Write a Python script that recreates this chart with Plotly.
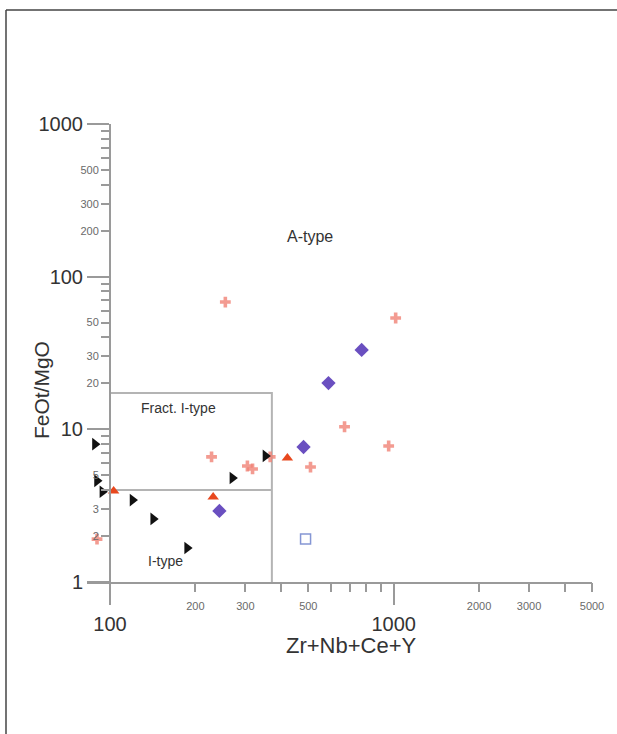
import math
import plotly.graph_objects as go

# Sample groups: Zr+Nb+Ce+Y (ppm) vs FeOt/MgO
black_x = [88.5, 90, 94, 120, 142, 187, 270, 353]
black_y = [8.0, 4.6, 3.9, 3.44, 2.59, 1.67, 4.8, 6.7]

red_x = [103, 231, 422]
red_y = [3.94, 3.6, 6.5]

purple_x = [243, 481, 589, 771]
purple_y = [2.92, 7.66, 20.1, 33.1]

pink_x = [90, 228, 305, 318, 367, 509, 671, 960, 1016, 255]
pink_y = [1.91, 6.6, 5.75, 5.5, 6.6, 5.66, 10.4, 7.78, 53.6, 68.2]

square_x = [489]
square_y = [1.91]

# Field boundaries
box_x = 372
box_top = 17.3
itype_top = 4.0

# Tick values
x_major = [100, 1000]
x_labeled_minor = [200, 300, 500, 2000, 3000, 5000]
x_minor = [200, 300, 400, 500, 600, 700, 800, 900, 2000, 3000, 4000, 5000]
y_major = [1, 10, 100, 1000]
y_labeled_minor = [2, 3, 5, 20, 30, 50, 200, 300, 500]
y_minor = [m * d for d in (1, 10, 100) for m in range(2, 10)]

X_RANGE = [1.91892, math.log10(5000)]
Y_RANGE = [0, 3]
# y axis crosses the x axis at Zr+Nb+Ce+Y = 100
Y_AXIS_POS = (2 - X_RANGE[0]) / (X_RANGE[1] - X_RANGE[0])

FONT = "Liberation Sans, Arial, sans-serif"
AXIS_COL = "#9a9a9a"
TEXT_COL = "#333333"
SMALL_COL = "#6a6a6a"
LINE_COL = "#b4b4b4"

fig = go.Figure()

# Field boundary lines
fig.add_trace(go.Scatter(x=[100, box_x, box_x], y=[box_top, box_top, 1], mode="lines",
                         line=dict(color=LINE_COL, width=2), showlegend=False, hoverinfo="skip"))
fig.add_trace(go.Scatter(x=[100, box_x], y=[itype_top, itype_top], mode="lines",
                         line=dict(color=LINE_COL, width=2), showlegend=False, hoverinfo="skip"))

fig.add_trace(go.Scatter(x=pink_x, y=pink_y, mode="markers", cliponaxis=False,
                         marker=dict(symbol="cross", size=9, color="#f08276", opacity=0.8,
                                     line=dict(width=0)), showlegend=False))
fig.add_trace(go.Scatter(x=black_x, y=black_y, mode="markers", cliponaxis=False,
                         marker=dict(symbol="triangle-right", size=11, color="#111111",
                                     line=dict(width=0)), showlegend=False))
fig.add_trace(go.Scatter(x=red_x, y=red_y, mode="markers", cliponaxis=False,
                         marker=dict(symbol="triangle-up", size=10, color="#e8481e",
                                     line=dict(width=0)), showlegend=False))
fig.add_trace(go.Scatter(x=purple_x, y=purple_y, mode="markers", cliponaxis=False,
                         marker=dict(symbol="diamond", size=11, color="#6a4fc0",
                                     line=dict(width=0)), showlegend=False))
fig.add_trace(go.Scatter(x=square_x, y=square_y, mode="markers", cliponaxis=False,
                         marker=dict(symbol="square-open", size=10, color="#8596d4",
                                     line=dict(width=1.5)), showlegend=False))

# Overlay axes carrying the small tick labels
fig.add_trace(go.Scatter(x=[100], y=[1], xaxis="x2", yaxis="y2", mode="markers",
                         marker=dict(opacity=0), showlegend=False, hoverinfo="skip"))

fig.update_layout(
    width=617, height=734,
    margin=dict(l=87, r=25, t=124, b=152),
    paper_bgcolor="white", plot_bgcolor="white",
    font=dict(family=FONT, color=TEXT_COL),
    xaxis=dict(type="log", range=X_RANGE, showgrid=False, zeroline=False,
               showline=True, linecolor=AXIS_COL, linewidth=2,
               tickmode="array", tickvals=x_major, ticktext=[str(v) for v in x_major],
               ticks="outside", ticklen=21, tickwidth=2, tickcolor=AXIS_COL,
               tickfont=dict(size=20, color=TEXT_COL), ticklabelstandoff=2,
               minor=dict(tickmode="array", tickvals=x_minor, ticks="outside",
                          ticklen=8, tickwidth=1.5, tickcolor=AXIS_COL, showgrid=False)),
    xaxis2=dict(type="log", range=X_RANGE, overlaying="x", anchor="y", side="bottom",
                showgrid=False, zeroline=False, showline=False,
                tickmode="array", tickvals=x_labeled_minor,
                ticktext=[str(v) for v in x_labeled_minor],
                ticks="outside", ticklen=8, tickwidth=1.5, tickcolor=AXIS_COL,
                tickfont=dict(size=11, color=SMALL_COL), ticklabelstandoff=6),
    yaxis=dict(type="log", range=Y_RANGE, showgrid=False, zeroline=False,
               anchor="free", position=Y_AXIS_POS,
               showline=True, linecolor=AXIS_COL, linewidth=2,
               tickmode="array", tickvals=y_major, ticktext=[str(v) for v in y_major],
               ticks="outside", ticklen=22, tickwidth=2, tickcolor=AXIS_COL,
               tickfont=dict(size=20, color=TEXT_COL), ticklabelstandoff=0,
               minor=dict(tickmode="array", tickvals=y_minor, ticks="outside",
                          ticklen=8, tickwidth=1.5, tickcolor=AXIS_COL, showgrid=False)),
    yaxis2=dict(type="log", range=Y_RANGE, overlaying="y", anchor="free",
                position=Y_AXIS_POS, side="left",
                showgrid=False, zeroline=False, showline=False,
                tickmode="array", tickvals=y_labeled_minor,
                ticktext=[str(v) for v in y_labeled_minor],
                ticks="outside", ticklen=8, tickwidth=1.5, tickcolor=AXIS_COL,
                tickfont=dict(size=11, color=SMALL_COL), ticklabelstandoff=1),
    showlegend=False,
)

# Field names
fig.add_annotation(x=2.705, y=2.266, xref="x", yref="y", text="A-type", showarrow=False,
                   font=dict(size=16, color=TEXT_COL))
fig.add_annotation(x=2.2397, y=1.1395, xref="x", yref="y", text="Fract. I-type", showarrow=False,
                   font=dict(size=14, color=TEXT_COL))
fig.add_annotation(x=2.194, y=0.1375, xref="x", yref="y", text="I-type", showarrow=False,
                   font=dict(size=14, color=TEXT_COL))

# Axis titles
fig.add_annotation(x=0.5228, y=-0.1397, xref="paper", yref="paper", text="Zr+Nb+Ce+Y",
                   xanchor="center", yanchor="middle",
                   showarrow=False, font=dict(size=22, color=TEXT_COL))
fig.add_annotation(x=-0.0911, y=0.419, xref="paper", yref="paper", text="FeOt/MgO",
                   xanchor="center", yanchor="middle",
                   textangle=-90, showarrow=False, font=dict(size=21, color=TEXT_COL))

# Frame around the figure
fig.add_shape(type="line", xref="paper", yref="paper", x0=-0.1604, x1=1.06, y0=1.2489, y1=1.2489,
              line=dict(color="#444444", width=1.5))
fig.add_shape(type="line", xref="paper", yref="paper", x0=-0.1604, x1=-0.1604, y0=1.2489, y1=-0.34,
              line=dict(color="#444444", width=1.5))

fig.write_html("out.html")
